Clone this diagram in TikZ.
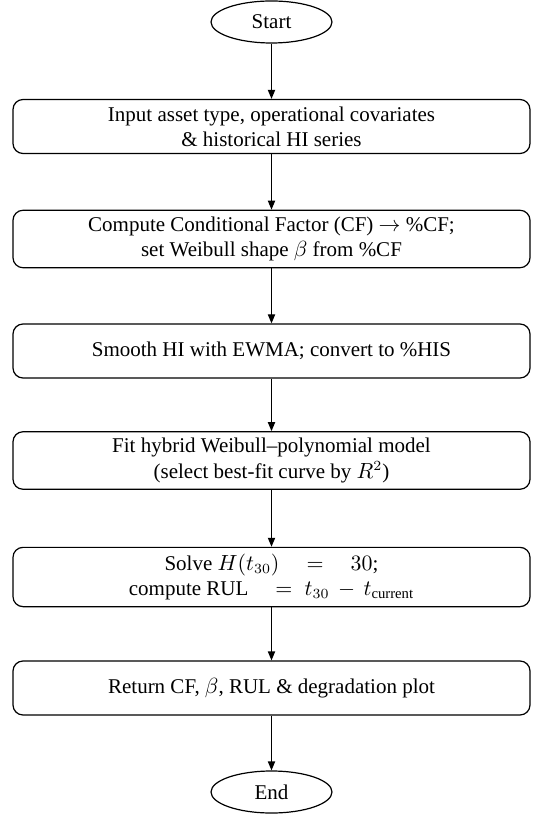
\documentclass[tikz,border=0pt]{standalone}
\usepackage{fontspec}
\usepackage{amsmath}
\setmainfont{Liberation Serif}
\usetikzlibrary{arrows.meta,shapes.geometric}
\begin{document}
\begin{tikzpicture}[x=0.5pt,y=-0.5pt,
  proc/.style={draw, rounded corners=5pt, minimum width=258.5pt, minimum height=27pt, align=center, font=\fontsize{10.5}{12.6}\selectfont, line width=0.6pt, inner ysep=3.3pt},
  term/.style={draw, ellipse, minimum width=60.5pt, minimum height=21pt, inner sep=0pt, line width=0.6pt, font=\fontsize{10.5}{12.6}\selectfont},
  arr/.style={-{Triangle[length=4.5pt,width=3.6pt]}, line width=0.6pt}]
\useasboundingbox (0,0) rectangle (534,817);
\node[term] (start) at (271.5,22) {Start};
\node[proc] (b1) at (271.5,126.5) {Input asset type, operational covariates\\ \& historical HI series};
\node[proc] (b2) at (271.5,239) {Compute Conditional Factor (CF) $\rightarrow$ \%CF;\\ set Weibull shape $\beta$ from \%CF};
\node[proc] (b3) at (271.5,351) {Smooth HI with EWMA; convert to \%HIS};
\node[proc] (b4) at (271.5,460.5) {Fit hybrid Weibull--polynomial model\\ (select best-fit curve by $R^2$)};
\node[proc] (b5) at (271.5,577) {Solve $H(t_{30})\quad=\quad 30$;\\ compute $\mathrm{RUL}\quad=\;t_{30}\,-\,t_{\text{current}}$};
\node[proc] (b6) at (271.5,688) {Return CF, $\beta$, RUL \& degradation plot};
\node[term] (end) at (271.5,792) {End};
\draw[arr] (start) -- (b1);
\draw[arr] (b1) -- (b2);
\draw[arr] (b2) -- (b3);
\draw[arr] (b3) -- (b4);
\draw[arr] (b4) -- (b5);
\draw[arr] (b5) -- (b6);
\draw[arr] (b6) -- (end);
\end{tikzpicture}
\end{document}
